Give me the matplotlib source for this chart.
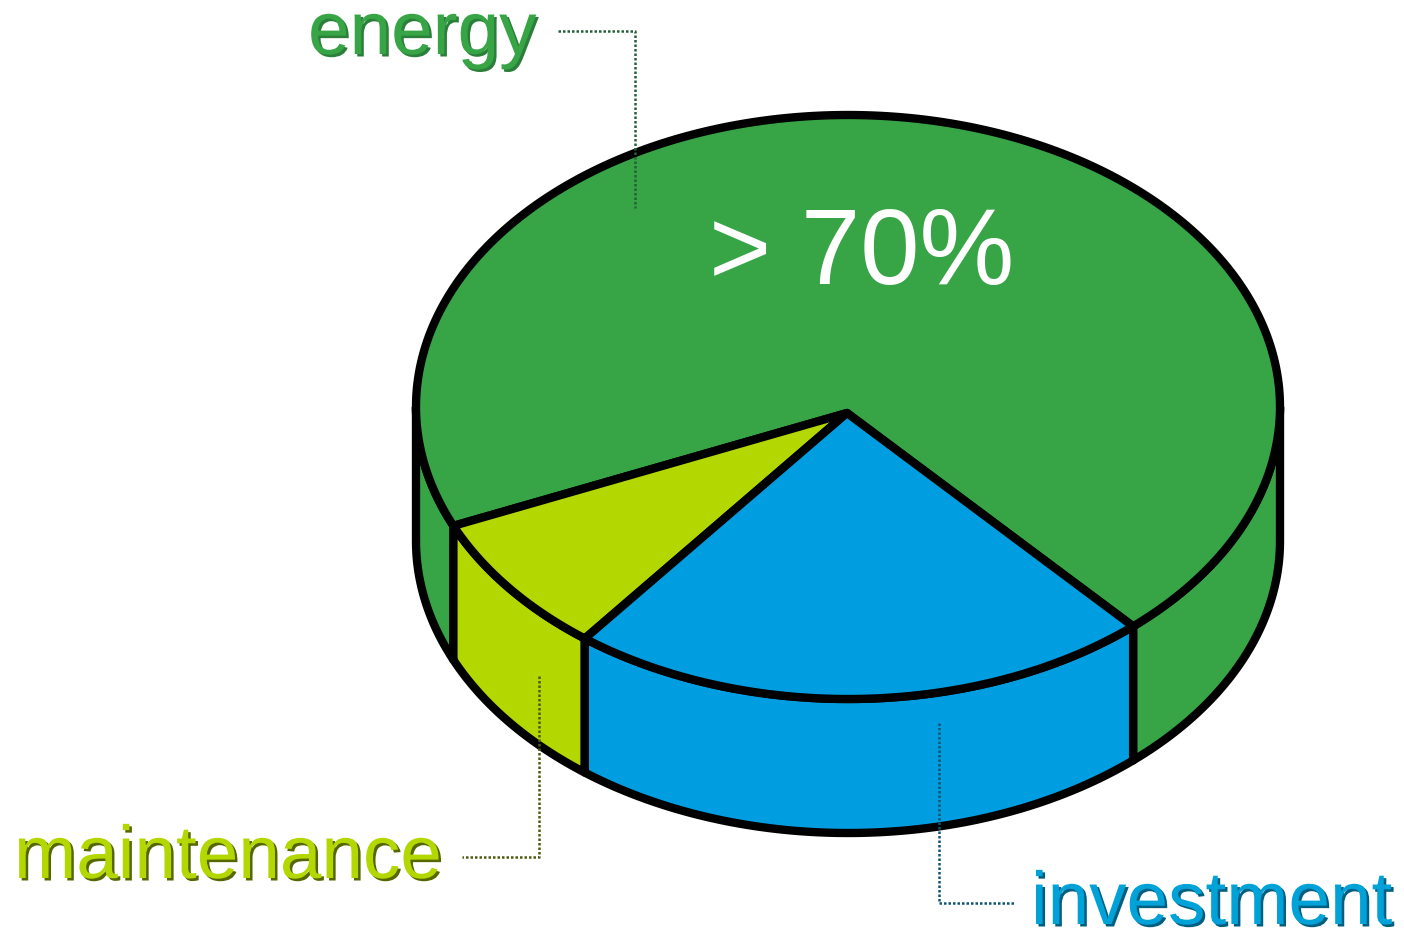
import numpy as np
import matplotlib
matplotlib.use('Agg')
import matplotlib.pyplot as plt
import matplotlib.patheffects as pe
from matplotlib.patches import Polygon

plt.rcParams['font.family'] = ['Liberation Sans', 'DejaVu Sans']

# cost shares in percent
labels = ['energy', 'maintenance', 'investment']
shares = [70.2, 7.9, 21.9]
colors = ['#37A546', '#B3D700', '#009EE0']
text_colors = ['#37A546', '#B3D700', '#00A2D8']
shadow_colors = ['#2B7F3A', '#566600', '#005F80']
leader_colors = ['#24603A', '#4F5A10', '#0F5570']
center_text = '> 70%'

# disc geometry in pixels, y pointing down
cx, cy = 848, 407
rx, ry = 432, 292
apex = (847, 413)
depth = 134
start_angle = -48.7
edge_lw = 6.0


def rim(t, drop=0):
    rad = np.radians(t)
    return np.column_stack([cx + rx * np.cos(rad), cy - ry * np.sin(rad) + drop])


def side_face(ax, t0, t1, color):
    ts = np.linspace(t0, t1, 120)
    pts = np.vstack([rim(ts), rim(ts[::-1], depth)])
    ax.add_patch(Polygon(pts, closed=True, facecolor=color, edgecolor='black',
                         lw=edge_lw, joinstyle='round'))


fig = plt.figure(figsize=(14.04, 9.32), dpi=100)
ax = fig.add_axes([0, 0, 1, 1])
ax.set_xlim(0, 1404)
ax.set_ylim(932, 0)
ax.axis('off')

# slice boundaries, counter-clockwise from the right end of the investment slice
angles = start_angle + np.cumsum([0] + [s * 3.6 for s in shares])

# front wall, only the part of each slice between 180 and 360 degrees shows
for i in range(3):
    a0, a1 = angles[i], angles[i + 1]
    for lo, hi in [(-180, 0), (180, 360)]:
        t0, t1 = max(a0, lo), min(a1, hi)
        if t1 > t0:
            side_face(ax, t0, t1, colors[i])

# top face
for i in range(3):
    ts = np.linspace(angles[i], angles[i + 1], 300)
    pts = np.vstack([apex, rim(ts)])
    ax.add_patch(Polygon(pts, closed=True, facecolor=colors[i], edgecolor='black',
                         lw=edge_lw, joinstyle='round'))

# dotted leader lines
leaders = [([558, 635, 635], [31, 31, 208]),
           ([539, 539, 462], [676, 857, 857]),
           ([939, 939, 1014], [723, 903, 903])]
for (xs, ys), c in zip(leaders, leader_colors):
    ax.plot(xs, ys, color=c, lw=1.8, ls=(0, (1, 0.8)), solid_capstyle='butt')

# labels with a hard drop shadow
positions = [(308, 54), (14, 878), (1031, 924)]
for name, (x, y), c, sc in zip(labels, positions, text_colors, shadow_colors):
    ax.text(x, y, name, color=c, fontsize=53.8, va='baseline', ha='left',
            path_effects=[pe.withSimplePatchShadow(offset=(1.8, -1.8), shadow_rgbFace=sc,
                                                   alpha=1.0)])

ax.text(709, 284, center_text, color='white', fontsize=76.8, va='baseline', ha='left')

fig.savefig('out.png', dpi=100, facecolor='white')
